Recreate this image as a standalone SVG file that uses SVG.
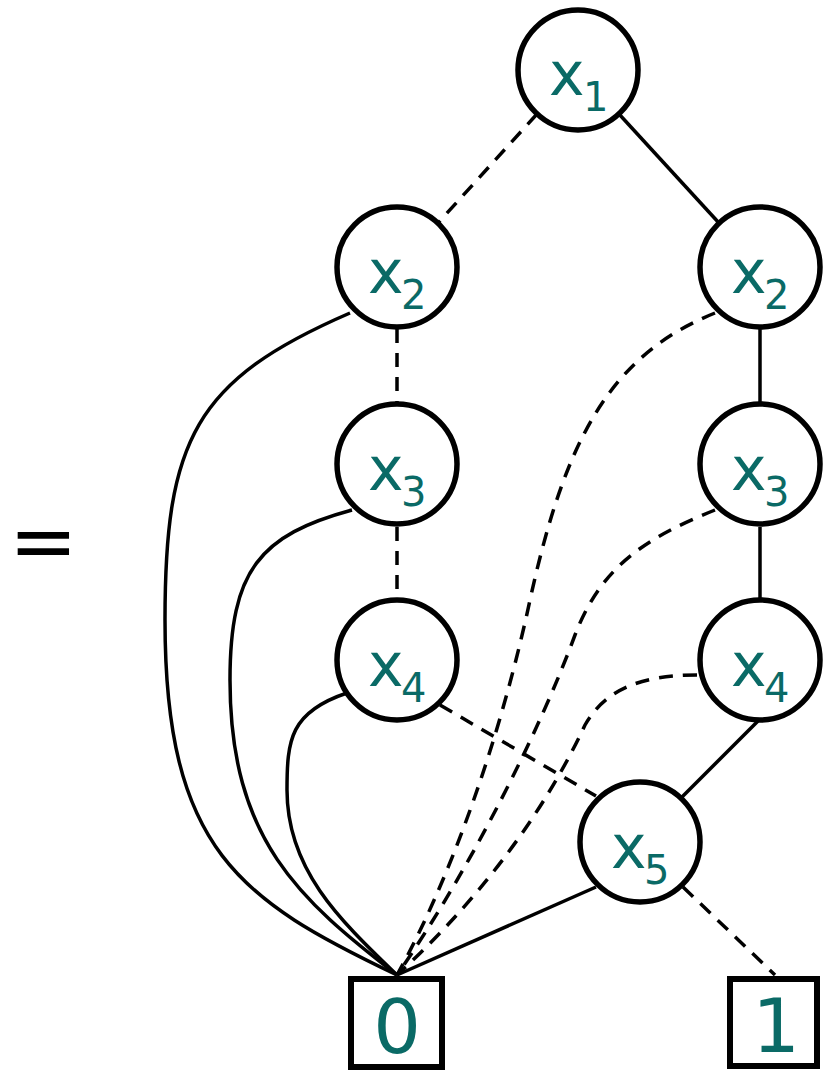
<svg xmlns="http://www.w3.org/2000/svg" width="830" height="1071" viewBox="0 0 830 1071">
<style>
.node{fill:#fff;stroke:#000;stroke-width:5.5}
.lbl{font-family:"DejaVu Sans",Verdana,sans-serif;fill:#0a6a66;font-size:60px}
.sub{font-size:40px}
.e{fill:none;stroke:#000;stroke-width:3.5}
.d{stroke-dasharray:14 10}
.term{fill:#fff;stroke:#000;stroke-width:6}
.tl{font-family:"DejaVu Sans",Verdana,sans-serif;fill:#0a6a66;font-size:75px;text-anchor:middle}
</style>
<rect width="830" height="1071" fill="#fff"/>
<text x="9" y="569" font-family="DejaVu Sans, sans-serif" font-size="82" fill="#000">=</text>
<g id="edges">
<line class="e d" x1="537" y1="114" x2="438" y2="223"/>
<line class="e" x1="619" y1="114" x2="719" y2="223"/>
<line class="e d" x1="397" y1="329" x2="397" y2="402"/>
<line class="e d" x1="397" y1="527" x2="397" y2="598"/>
<line class="e" x1="760" y1="329" x2="760" y2="402"/>
<line class="e" x1="760" y1="527" x2="760" y2="598"/>
<line class="e d" x1="440" y1="705" x2="596" y2="796"/>
<line class="e" x1="759" y1="720" x2="682" y2="797"/>
<line class="e" x1="596" y1="887" x2="397" y2="975"/>
<line class="e d" x1="683" y1="887" x2="775" y2="975"/>
<path class="e" d="M350,313 C195,380 165,440 165,620 C165,850 240,900 397,975"/>
<path class="e" d="M352,510 C260,535 230,570 230,680 C230,840 300,900 397,975"/>
<path class="e" d="M347,693 C290,712 287,740 287,790 C287,870 340,920 397,975"/>
<path class="e d" d="M715,313 C610,355 565,440 530,600 C500,740 450,880 397,975"/>
<path class="e d" d="M715,510 C640,540 600,570 575,635 C540,730 470,870 397,975"/>
<path class="e d" d="M697,675 C640,675 605,690 585,725 C550,800 490,890 397,975"/>
</g>
<g id="n1"><circle class="node" cx="578" cy="70" r="60"/><text class="lbl" x="549" y="95">x<tspan class="sub" x="583" dy="16">1</tspan></text></g>
<g id="n2L"><circle class="node" cx="397" cy="267" r="60"/><text class="lbl" x="368" y="293">x<tspan class="sub" x="401" dy="16">2</tspan></text></g>
<g id="n2R"><circle class="node" cx="760" cy="267" r="60"/><text class="lbl" x="731" y="293">x<tspan class="sub" x="764" dy="16">2</tspan></text></g>
<g id="n3L"><circle class="node" cx="397" cy="464" r="60"/><text class="lbl" x="368" y="490">x<tspan class="sub" x="401" dy="16">3</tspan></text></g>
<g id="n3R"><circle class="node" cx="760" cy="464" r="60"/><text class="lbl" x="731" y="490">x<tspan class="sub" x="764" dy="16">3</tspan></text></g>
<g id="n4L"><circle class="node" cx="397" cy="660" r="60"/><text class="lbl" x="368" y="686">x<tspan class="sub" x="401" dy="16">4</tspan></text></g>
<g id="n4R"><circle class="node" cx="760" cy="660" r="60"/><text class="lbl" x="731" y="686">x<tspan class="sub" x="764" dy="16">4</tspan></text></g>
<g id="n5"><circle class="node" cx="640" cy="842" r="60"/><text class="lbl" x="611" y="868">x<tspan class="sub" x="644" dy="16">5</tspan></text></g>
<g id="t0"><rect class="term" x="351" y="979" width="91" height="88"/><text class="tl" x="397" y="1053">0</text></g>
<g id="t1"><rect class="term" x="730" y="979" width="87" height="87"/><text class="tl" x="776" y="1052">1</text></g>
</svg>
